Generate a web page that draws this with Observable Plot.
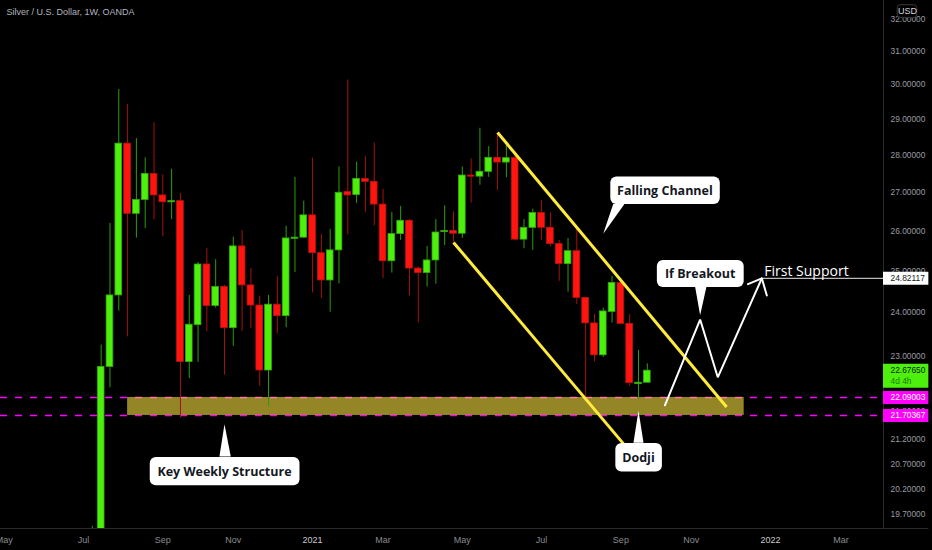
<!DOCTYPE html>
<html>
<head>
<meta charset="utf-8">
<script src="https://cdn.jsdelivr.net/npm/d3@7"></script>
<script src="https://cdn.jsdelivr.net/npm/@observablehq/plot@0.6"></script>
<style>
html,body{margin:0;padding:0;background:#000;overflow:hidden}
svg{display:block}
</style>
</head>
<body>
<div id="chart"></div>
<script>
const weekDates = ["2020-07-13","2020-07-20","2020-07-27","2020-08-03","2020-08-10","2020-08-17","2020-08-24","2020-08-31","2020-09-07","2020-09-14","2020-09-21","2020-09-28","2020-10-05","2020-10-12","2020-10-19","2020-10-26","2020-11-02","2020-11-09","2020-11-16","2020-11-23","2020-11-30","2020-12-07","2020-12-14","2020-12-21","2020-12-28","2021-01-04","2021-01-11","2021-01-18","2021-01-25","2021-02-01","2021-02-08","2021-02-15","2021-02-22","2021-03-01","2021-03-08","2021-03-15","2021-03-22","2021-03-29","2021-04-05","2021-04-12","2021-04-19","2021-04-26","2021-05-03","2021-05-10","2021-05-17","2021-05-24","2021-05-31","2021-06-07","2021-06-14","2021-06-21","2021-06-28","2021-07-05","2021-07-12","2021-07-19","2021-07-26","2021-08-02","2021-08-09","2021-08-16","2021-08-23","2021-08-30","2021-09-06","2021-09-13","2021-09-20","2021-09-27"];
const opens = [19.0,19.3,22.76,24.41,28.32,26.44,26.80,27.49,26.92,26.74,26.77,22.87,23.71,25.16,24.16,24.61,23.64,25.61,24.65,24.17,22.68,24.19,23.92,25.80,25.83,26.40,25.44,24.77,25.51,27.01,26.93,27.36,27.28,26.68,25.24,25.92,26.26,25.06,24.95,25.26,25.97,26.00,25.93,27.45,27.42,27.55,27.93,27.80,27.92,25.78,26.08,26.46,26.08,25.67,25.17,25.49,24.35,23.75,23.02,24.02,24.71,23.74,22.38,22.41];
const closes = [19.3,22.76,24.41,28.32,26.44,26.80,27.49,26.92,26.74,26.77,22.87,23.72,25.16,24.16,24.61,23.64,25.61,24.65,24.17,22.68,24.19,23.92,25.81,25.83,26.40,25.44,24.77,25.51,26.99,26.92,27.36,27.28,26.68,25.24,25.92,26.26,25.06,24.95,25.26,25.96,26.00,25.93,27.45,27.42,27.55,27.93,27.80,27.92,25.78,26.08,26.46,26.08,25.67,25.17,25.49,24.35,23.75,23.02,24.03,24.71,23.74,22.40,22.41,22.6765];
const highs = [19.47,23.25,26.19,29.86,29.43,28.46,27.93,28.91,27.47,27.62,26.97,24.41,25.21,25.56,25.28,24.65,25.84,26.01,25.06,24.39,24.41,24.87,26.12,27.40,26.77,27.92,25.91,26.04,27.68,30.14,27.81,27.96,28.34,27.08,26.47,26.63,26.29,25.10,25.61,26.29,26.65,26.49,27.68,27.90,28.75,28.24,28.60,28.27,28.00,26.29,26.56,26.79,26.46,25.76,25.81,26.03,24.37,23.96,24.11,24.87,24.77,23.96,23.13,22.83];
const lows = [18.9,19.2,22.30,24.04,23.44,25.82,26.06,26.29,25.85,26.29,21.65,22.50,22.86,23.56,24.11,22.58,23.22,23.56,23.63,22.33,21.89,23.51,23.65,24.96,25.81,24.47,24.33,24.01,24.69,25.90,26.71,26.48,26.13,24.82,24.95,25.76,24.40,23.76,24.61,24.68,25.63,25.72,25.81,26.72,27.19,27.40,27.05,27.39,25.75,25.55,25.51,25.76,25.60,24.75,24.49,24.19,22.09,22.87,22.97,23.76,23.74,22.33,22.05,22.41];

const priceTicks = [32,31,30,29,28,27,26,25,24,23,21.8,21.2,20.7,20.2,19.7];
const monthTickDates = ["2020-05-04","2020-07-06","2020-09-07","2020-11-02","2021-03-01","2021-05-03","2021-07-05","2021-09-06","2021-11-01","2022-02-28"];
const monthTickLabels = ["May","Jul","Sep","Nov","Mar","May","Jul","Sep","Nov","Mar"];
const yearTickDates = ["2021-01-04","2022-01-03"];
const yearTickLabels = ["2021","2022"];

const supportLevels = [22.09003, 21.70367];
const zoneDates = ["2020-08-10","2021-12-13"];
const upperChannelDates = ["2021-05-31","2021-11-29"];
const upperChannelPrices = [28.63,21.885];
const lowerChannelDates = ["2021-04-26","2021-09-12"];
const lowerChannelPrices = [25.71,20.99];
const pathDates = ["2021-10-11","2021-11-08","2021-11-22","2021-12-27"];
const pathPrices = [21.92,23.84,22.53,24.82117];
const arrowDates = ["2021-12-16","2021-12-27","2021-12-31"];
const arrowPrices = [24.68,24.82117,24.41];

const calloutLabels = ["Falling Channel","If Breakout","Dodji","Key Weekly Structure"];
const calloutTextDates = ["2021-10-11","2021-11-08","2021-09-20","2020-10-26"];
const calloutTextPrices = [27.04,24.93,20.825,20.54];
const calloutStart = ["2021-08-29","2021-10-05","2021-09-02","2020-08-28"];
const calloutEnd = ["2021-11-24","2021-12-13","2021-10-09","2020-12-25"];
const calloutTop = [27.41,25.26,21.115,20.83];
const calloutBottom = [26.68,24.60,20.537,20.26];
const tailDates = [
  ["2021-08-31","2021-08-23","2021-09-09"],
  ["2021-11-04","2021-11-08","2021-11-13"],
  ["2021-09-16","2021-09-20","2021-09-24"],
  ["2020-10-22","2020-10-26","2020-10-31"]
];
const tailPrices = [
  [26.70,25.93,26.70],
  [24.62,23.94,24.62],
  [21.13,21.81,21.13],
  [20.85,21.52,20.85]
];

const tagLabels = ["24.82117","22.67650","22.09003","21.70367"];
const tagPrices = [24.82117,22.6765,22.09003,21.70367];
const tagFills = ["#ffffff","#4cf00c","#ff00ff","#ff00ff"];
const tagInk = ["#131722","#131722","#ffffff","#ffffff"];

const dt = s => new Date(s + "T00:00:00Z");
const candles = weekDates.map((s,i) => ({
  date: dt(s), open: opens[i], close: closes[i], high: highs[i], low: lows[i], up: closes[i] >= opens[i]
}));
const xEnd = new Date("2022-04-02T17:00:00Z");
const tagEnd = new Date("2022-05-08T18:00:00Z");
const GREEN="#4cf00c", RED="#ff140f";
const pts = (ds,ps) => ds.map((d,i)=>({d:dt(d),p:ps[i]}));
const callouts = calloutLabels.map((t,i)=>({t,x:dt(calloutTextDates[i]),y:calloutTextPrices[i],x1:dt(calloutStart[i]),x2:dt(calloutEnd[i]),y1:calloutTop[i],y2:calloutBottom[i]}));
const tails = tailDates.flatMap((ds,k)=>ds.map((d,i)=>({k,d:dt(d),p:tailPrices[k][i]})));
const tags = tagLabels.map((t,i)=>({t,p:tagPrices[i],fill:tagFills[i],ink:tagInk[i]}));
const flatTags = tags.filter((d,i)=>i!==1);
const liveTag = tags.filter((d,i)=>i===1);

const fontUi = "'Open Sans','Noto Sans',sans-serif";
const plot = Plot.plot({
  width: 932, height: 550,
  marginLeft: 0, marginRight: 49, marginTop: 0, marginBottom: 22,
  style: {background:"#000", color:"#9a9ca3", fontFamily:"'Liberation Sans',sans-serif", fontSize:"8.4px"},
  x: {type:"utc", domain:[dt("2020-05-01"), xEnd], axis:null},
  y: {type:"log", domain:[19.43,32.58], axis:null},
  marks: [
    Plot.ruleX([xEnd], {stroke:"#2b2b2b", strokeWidth:1}),
    Plot.ruleY([19.43], {stroke:"#2b2b2b", strokeWidth:1, x2:tagEnd}),
    Plot.axisY(priceTicks, {anchor:"right", tickSize:0, tickPadding:7, label:null, tickFormat:d=>d.toFixed(5), fill:"#9a9ca3"}),
    Plot.axisX(monthTickDates.map(dt), {anchor:"bottom", tickSize:0, tickPadding:8, label:null, tickFormat:(d,i)=>monthTickLabels[i], fill:"#8a8c92", fontSize:9}),
    Plot.axisX(yearTickDates.map(dt), {anchor:"bottom", tickSize:0, tickPadding:8, label:null, tickFormat:(d,i)=>yearTickLabels[i], fill:"#c8c9cc", fontSize:9}),

    Plot.ruleY(supportLevels, {stroke:"#ff00ff", strokeWidth:1.5, strokeDasharray:"7,8"}),
    Plot.rect([0], {x1:()=>dt(zoneDates[0]), x2:()=>dt(zoneDates[1]), y1:()=>supportLevels[0], y2:()=>supportLevels[1], fill:"#f6de3f", fillOpacity:0.6}),

    Plot.ruleX(candles, {x:"date", y1:"low", y2:"high", strokeWidth:1, stroke:d=>d.up?"#2f9c0b":"#a5120d", clip:true}),
    Plot.rect(candles, {
      x1:d=>d3.utcHour.offset(d.date,-64), x2:d=>d3.utcHour.offset(d.date,64),
      y1:"open", y2:"close",
      fill:d=>d.up?GREEN:RED, stroke:d=>d.up?"#36a80e":"#b5140f", strokeWidth:0.8, clip:true
    }),

    Plot.line(pts(upperChannelDates,upperChannelPrices), {x:"d",y:"p",stroke:"#ffeb3b",strokeWidth:3,strokeLinecap:"butt"}),
    Plot.line(pts(lowerChannelDates,lowerChannelPrices), {x:"d",y:"p",stroke:"#ffeb3b",strokeWidth:3,strokeLinecap:"butt"}),

    Plot.ruleY([tagPrices[0]], {x1:dt(pathDates[3]), x2:xEnd, stroke:"#bbbbbb", strokeWidth:1.3}),
    Plot.line(pts(pathDates,pathPrices), {x:"d",y:"p",stroke:"#fff",strokeWidth:2,strokeLinejoin:"miter"}),
    Plot.line(pts(arrowDates,arrowPrices), {x:"d",y:"p",stroke:"#fff",strokeWidth:2,strokeLinejoin:"miter"}),
    Plot.text(["First Support"], {x:()=>dt("2021-12-29"), y:()=>25.0, text:d=>d, textAnchor:"start", fill:"#fff", fontSize:14, fontFamily:"'Open Sans',sans-serif"}),

    Plot.line(tails, {x:"d",y:"p",z:"k",fill:"#fff",stroke:"none",curve:"linear"}),
    Plot.rect(callouts, {x1:"x1",x2:"x2",y1:"y1",y2:"y2",fill:"#fff",rx:6}),
    Plot.text(callouts, {x:"x",y:"y",text:"t",fill:"#131722",fontWeight:700,fontSize:12.5,fontFamily:fontUi}),

    Plot.ruleY(flatTags, {y:"p", x1:xEnd, x2:tagEnd, stroke:"fill", strokeWidth:13}),
    Plot.ruleY(liveTag, {y:"p", x1:xEnd, x2:tagEnd, stroke:"fill", strokeWidth:24, dy:5}),
    Plot.text(tags, {x:xEnd, y:"p", text:"t", dx:7, textAnchor:"start", fill:"ink"}),
    Plot.text(["4d 4h"], {x:xEnd, y:()=>tagPrices[1], text:d=>d, dx:7, dy:11, textAnchor:"start", fill:"#1f7a06"}),

    Plot.text(["Silver / U.S. Dollar, 1W, OANDA"], {frameAnchor:"top-left", dx:6, dy:8, text:d=>d, fill:"#b2b5be", fontSize:9}),
    Plot.rect([0], {x1:()=>dt("2022-04-14"), x2:()=>new Date("2022-04-29T12:00:00Z"), y1:()=>32.43, y2:()=>32.03, fill:"#000", stroke:"#3a3a3a", rx:3}),
    Plot.text(["USD"], {x:()=>new Date("2022-04-21T20:00:00Z"), y:()=>32.23, text:d=>d, fill:"#d6d6d6", fontSize:9})
  ]
});
document.getElementById("chart").append(plot);
</script>
</body>
</html>
